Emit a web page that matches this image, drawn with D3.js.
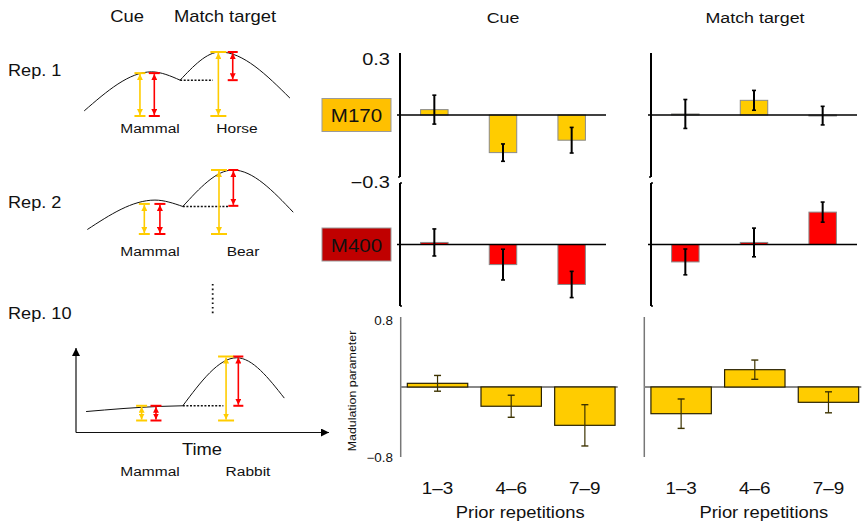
<!DOCTYPE html>
<html>
<head>
<meta charset="utf-8">
<script src="https://cdn.jsdelivr.net/npm/d3@7"></script>
<style>
  body { margin: 0; background: #fff; }
  svg { display: block; font-family: 'Liberation Sans', Arial, sans-serif; }
</style>
</head>
<body>
<script>
// ---- bar chart data ----
const groups = ['1–3', '4–6', '7–9']

const m170_cue = [0.026, -0.182, -0.122]
const m170_cue_err = [0.070, 0.042, 0.062]
const m170_match = [0.005, 0.071, -0.003]
const m170_match_err = [0.070, 0.048, 0.045]

const m400_cue = [0.010, -0.098, -0.195]
const m400_cue_err = [0.066, 0.075, 0.064]
const m400_match = [-0.085, 0.010, 0.158]
const m400_match_err = [0.063, 0.070, 0.049]

const mod_cue = [0.042, -0.220, -0.438]
const mod_cue_err = [0.090, 0.126, 0.236]
const mod_match = [-0.305, 0.198, -0.175]
const mod_match_err = [0.168, 0.110, 0.120]

// ---- schematic data (time 0..100, response 0..1) ----
const rep_labels = ['Rep. 1', 'Rep. 2', 'Rep. 10']
const cue_words = ['Mammal', 'Mammal', 'Mammal']
const target_words = ['Horse', 'Bear', 'Rabbit']
const cue_curves = [
  [[0.1, 0.08], [32.5, 0.69], [46.2, 0.56]],
  [[1.6, 0.07], [34.1, 0.53], [47.5, 0.43]],
  [[1.0, 0.14], [36.5, 0.22], [47.5, 0.23]],
]
const target_curves = [
  [[46.2, 0.56], [65.4, 1.0], [99.0, 0.28]],
  [[47.5, 0.43], [71.6, 1.0], [100.6, 0.34]],
  [[47.5, 0.23], [73.4, 0.98], [96.3, 0.35]],
]
// [time, top, bottom]
const cue_arrows_m170 = [[26.9, 0.67, 0], [29.0, 0.47, 0], [27.7, 0.23, 0]]
const cue_arrows_m400 = [[33.8, 0.67, 0], [36.5, 0.47, 0], [34.6, 0.23, 0]]
const target_arrows_m170 = [[64.6, 1, 0], [64.9, 1, 0], [68.3, 1, 0]]
const target_arrows_m400 = [[71.5, 1, 0.56], [71.8, 1, 0.44], [74.2, 1, 0.23]]
const dotted_end = [62, 69.4, 67]

const YELLOW = '#ffcc00'
const RED = '#ff0000'
// the source figure's lettering is a little wider than Liberation Sans
const STRETCH = 1.15

const width = 863, height = 524
const svg = d3.select('body').append('svg')
  .attr('width', width).attr('height', height)
  .attr('viewBox', `0 0 ${width} ${height}`)

const defs = svg.append('defs')
function marker(id, color, size) {
  defs.append('marker')
    .attr('id', id)
    .attr('markerUnits', 'userSpaceOnUse')
    .attr('markerWidth', size).attr('markerHeight', size)
    .attr('refX', size).attr('refY', size / 2)
    .attr('orient', 'auto-start-reverse')
    .append('path')
    .attr('d', `M0,0L${size},${size / 2}L0,${size}Z`)
    .attr('fill', color)
}
marker('ah-y', YELLOW, 6)
marker('ah-r', RED, 6)
marker('ah-k', '#000', 8)

function text(x, y, s, size, anchor = 'start', sx = STRETCH) {
  return svg.append('text')
    .attr('transform', `translate(${x},${y}) scale(${sx},1)`)
    .attr('font-size', size)
    .attr('text-anchor', anchor)
    .attr('fill', '#111')
    .text(s)
}

// ================= schematic =================
text(127, 22, 'Cue', 16, 'middle')
text(225, 22, 'Match target', 16, 'middle')

const xs = d3.scaleLinear().domain([0, 100]).range([84, 292])
const bases = [116, 234, 420.5]
const label_y = [133, 256, 476]
const rep_y = [76, 208, 319]
const cue_word_x = 150
const target_word_x = [237, 243, 248]

const line = d3.line().curve(d3.curveMonotoneX)

rep_labels.forEach((rep, i) => {
  const ys = d3.scaleLinear().domain([0, 1]).range([bases[i], bases[i] - 64])
  const g = svg.append('g')

  text(8, rep_y[i], rep, 16.5, 'start', 1.1)

  g.append('path')
    .attr('d', line(cue_curves[i].map(([t, r]) => [xs(t), ys(r)])))
    .attr('fill', 'none').attr('stroke', '#111').attr('stroke-width', 1)
  g.append('path')
    .attr('d', line(target_curves[i].map(([t, r]) => [xs(t), ys(r)])))
    .attr('fill', 'none').attr('stroke', '#111').attr('stroke-width', 1)

  const dip = target_curves[i][0]
  g.append('line')
    .attr('x1', xs(dip[0])).attr('x2', xs(dotted_end[i]))
    .attr('y1', ys(dip[1])).attr('y2', ys(dip[1]))
    .attr('stroke', '#111').attr('stroke-width', 1.5)
    .attr('stroke-dasharray', '2,1.6')

  const arrows = [
    [cue_arrows_m170[i], YELLOW, 'ah-y', 11],
    [cue_arrows_m400[i], RED, 'ah-r', 11],
    [target_arrows_m170[i], YELLOW, 'ah-y', 16],
    [target_arrows_m400[i], RED, 'ah-r', 10],
  ]
  arrows.forEach(([[t, top, bot], color, mk, cap]) => {
    const x = xs(t)
    g.append('line')
      .attr('x1', x).attr('x2', x)
      .attr('y1', ys(top) + 1).attr('y2', ys(bot) - 1)
      .attr('stroke', color).attr('stroke-width', 1.6)
      .attr('marker-start', `url(#${mk})`)
      .attr('marker-end', `url(#${mk})`)
    ;[top, bot].forEach(v => {
      g.append('line')
        .attr('x1', x - cap / 2).attr('x2', x + cap / 2)
        .attr('y1', ys(v)).attr('y2', ys(v))
        .attr('stroke', color).attr('stroke-width', 2)
    })
  })

  text(cue_word_x, label_y[i], cue_words[i], 13.5, 'middle')
  text(target_word_x[i], label_y[i], target_words[i], 13.5, 'middle')
})

// vertical dots between rep 2 and rep 10
svg.append('line')
  .attr('x1', 212.7).attr('x2', 212.7).attr('y1', 284).attr('y2', 316)
  .attr('stroke', '#111').attr('stroke-width', 1.8)
  .attr('stroke-dasharray', '1.6,3')

// axes of the rep 10 sketch
svg.append('line')
  .attr('x1', 76).attr('x2', 76).attr('y1', 432.5).attr('y2', 348)
  .attr('stroke', '#111').attr('stroke-width', 1.2)
  .attr('marker-end', 'url(#ah-k)')
svg.append('line')
  .attr('x1', 76).attr('x2', 329).attr('y1', 432.5).attr('y2', 432.5)
  .attr('stroke', '#111').attr('stroke-width', 1.2)
  .attr('marker-end', 'url(#ah-k)')
text(202, 455, 'Time', 17, 'middle', 1.08)

// ================= bar panels =================
text(503, 23, 'Cue', 15.5, 'middle')
text(755, 23, 'Match target', 15.5, 'middle')

function top_panel(axis_x, y0, y1, values, errs, color) {
  const x = d3.scaleBand().domain(groups)
    .range([axis_x, axis_x + 206]).paddingInner(0.6).paddingOuter(0.3)
  const y = d3.scaleLinear().domain([-0.3, 0.3]).range([y1, y0])
  const rows = groups.map((k, i) => ({k, v: values[i], e: errs[i]}))
  const g = svg.append('g')

  g.selectAll('rect').data(rows).join('rect')
    .attr('x', d => x(d.k))
    .attr('y', d => y(Math.max(0, d.v)))
    .attr('width', x.bandwidth())
    .attr('height', d => Math.max(1, Math.abs(y(d.v) - y(0))))
    .attr('fill', color)
    .attr('stroke', '#8a8a8a').attr('stroke-width', 1)

  // axis + zero line
  g.append('line')
    .attr('x1', axis_x).attr('x2', axis_x).attr('y1', y0).attr('y2', y1)
    .attr('stroke', '#000').attr('stroke-width', 2)
  g.append('line')
    .attr('x1', axis_x - 3).attr('x2', axis_x + 206).attr('y1', y(0)).attr('y2', y(0))
    .attr('stroke', '#000').attr('stroke-width', 1.6)

  const eb = g.selectAll('g.eb').data(rows).join('g').attr('class', 'eb')
  const cx = d => x(d.k) + x.bandwidth() / 2
  eb.append('line')
    .attr('x1', cx).attr('x2', cx)
    .attr('y1', d => y(d.v + d.e)).attr('y2', d => y(d.v - d.e))
    .attr('stroke', '#000').attr('stroke-width', 2)
  ;[1, -1].forEach(s => {
    eb.append('line')
      .attr('x1', d => cx(d) - 2).attr('x2', d => cx(d) + 2)
      .attr('y1', d => y(d.v + s * d.e)).attr('y2', d => y(d.v + s * d.e))
      .attr('stroke', '#000').attr('stroke-width', 1.6)
  })
  return y
}

function bottom_panel(axis_x, values, errs) {
  const x = d3.scaleBand().domain(groups)
    .range([axis_x, axis_x + 221]).paddingInner(0.18).paddingOuter(0.09)
  const y = d3.scaleLinear().domain([-0.8, 0.8]).range([457, 317])
  const rows = groups.map((k, i) => ({k, v: values[i], e: errs[i]}))
  const g = svg.append('g')

  g.append('line')
    .attr('x1', axis_x).attr('x2', axis_x).attr('y1', y(0.8)).attr('y2', y(-0.8))
    .attr('stroke', '#777').attr('stroke-width', 1.5)
  g.append('line')
    .attr('x1', axis_x).attr('x2', axis_x + 217).attr('y1', y(0)).attr('y2', y(0))
    .attr('stroke', '#888').attr('stroke-width', 2)

  g.selectAll('rect').data(rows).join('rect')
    .attr('x', d => x(d.k))
    .attr('y', d => y(Math.max(0, d.v)))
    .attr('width', x.bandwidth())
    .attr('height', d => Math.abs(y(d.v) - y(0)))
    .attr('fill', YELLOW)
    .attr('stroke', '#2a2200').attr('stroke-width', 1.2)

  const eb = g.selectAll('g.eb').data(rows).join('g').attr('class', 'eb')
  const cx = d => x(d.k) + x.bandwidth() / 2
  eb.append('line')
    .attr('x1', cx).attr('x2', cx)
    .attr('y1', d => y(d.v + d.e)).attr('y2', d => y(d.v - d.e))
    .attr('stroke', '#3d3300').attr('stroke-width', 1.2)
  ;[1, -1].forEach(s => {
    eb.append('line')
      .attr('x1', d => cx(d) - 3.5).attr('x2', d => cx(d) + 3.5)
      .attr('y1', d => y(d.v + s * d.e)).attr('y2', d => y(d.v + s * d.e))
      .attr('stroke', '#3d3300').attr('stroke-width', 1.4)
  })

  g.selectAll('text.tick').data(groups).join('text')
    .attr('class', 'tick')
    .attr('transform', d => `translate(${x(d) + x.bandwidth() / 2},494) scale(1.18,1)`)
    .attr('text-anchor', 'middle')
    .attr('font-size', 16)
    .attr('fill', '#111')
    .text(d => d)
  g.append('text')
    .attr('transform', `translate(${x.range()[0] + (x.range()[1] - x.range()[0]) / 2 + 9},518) scale(${STRETCH},1)`)
    .attr('text-anchor', 'middle')
    .attr('font-size', 16)
    .attr('fill', '#111')
    .text('Prior repetitions')
  return y
}

// M170 row
const y170 = top_panel(400, 53, 177, m170_cue, m170_cue_err, YELLOW)
top_panel(651, 53, 177, m170_match, m170_match_err, YELLOW)
// M400 row
const y400 = top_panel(400, 183, 306, m400_cue, m400_cue_err, RED)
top_panel(651, 183, 306, m400_match, m400_match_err, RED)

// small hooks at axis ends
;[400, 651].forEach(ax => {
  svg.append('path').attr('d', `M${ax},${y170(-0.3)} h-2`)
    .attr('stroke', '#000').attr('stroke-width', 1.5).attr('fill', 'none')
  svg.append('path').attr('d', `M${ax},${y400(0.3)} h2`)
    .attr('stroke', '#000').attr('stroke-width', 1.5).attr('fill', 'none')
  svg.append('path').attr('d', `M${ax},${y400(-0.3)} h2`)
    .attr('stroke', '#000').attr('stroke-width', 1.5).attr('fill', 'none')
})

text(390, 65, '0.3', 16, 'end', 1.25)
text(390, 188, '−0.3', 16, 'end', 1.25)

// component boxes
const boxes = [['M170', '#ffc000', y170(0)], ['M400', '#c00000', y400(0)]]
boxes.forEach(([name, fill, cy]) => {
  svg.append('rect')
    .attr('x', 322).attr('y', cy - 16.5).attr('width', 69).attr('height', 33)
    .attr('fill', fill).attr('stroke', '#9a9a9a').attr('stroke-width', 1)
  text(356.5, cy + 7, name, 19, 'middle', 1.08)
})

// modulation parameter row
const ymod = bottom_panel(400.7, mod_cue, mod_cue_err)
bottom_panel(644.3, mod_match, mod_match_err)
text(393, 325, '0.8', 12, 'end', 1.12)
text(393, 462, '−0.8', 12, 'end', 1.12)
svg.append('text')
  .attr('transform', `translate(356, ${ymod(0) + 4}) rotate(-90) scale(1.08,1)`)
  .attr('text-anchor', 'middle')
  .attr('font-size', 11.5)
  .attr('fill', '#111')
  .text('Madulation parameter')
</script>
</body>
</html>
